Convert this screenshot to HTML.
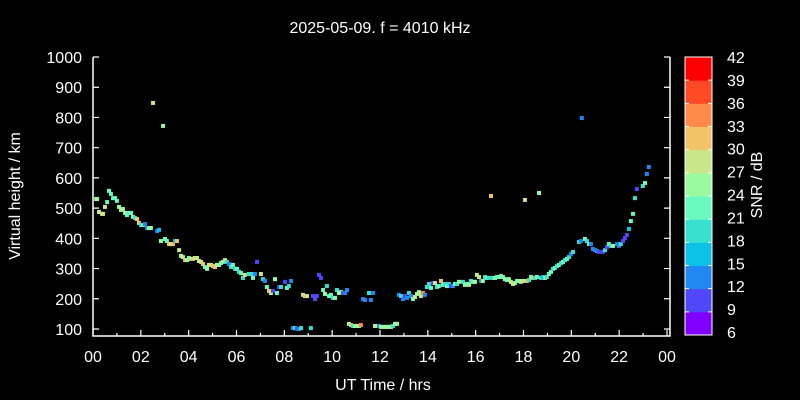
<!DOCTYPE html>
<html><head><meta charset="utf-8"><style>
html,body{margin:0;padding:0;background:#000;}
svg{display:block;font-family:"Liberation Sans",sans-serif;}
</style></head><body>
<svg id="c" width="800" height="400" viewBox="0 0 800 400">
<rect x="0" y="0" width="800" height="400" fill="#000"/>
<text x="380" y="33" fill="#fff" font-size="16" text-anchor="middle">2025-05-09. f = 4010 kHz</text>
<text x="383" y="390" fill="#fff" font-size="16" text-anchor="middle">UT Time / hrs</text>
<text transform="translate(20,196) rotate(-90)" fill="#fff" font-size="16" text-anchor="middle">Virtual height / km</text>
<text transform="translate(762,185) rotate(-90)" fill="#fff" font-size="16" text-anchor="middle">SNR / dB</text>
<g id="axes"></g>
<g id="pts"></g>
<g id="cbar"></g>
</svg>
<script>
const xTicks=["00","02","04","06","08","10","12","14","16","18","20","22","00"];
const yTicks=[100,200,300,400,500,600,700,800,900,1000];
const cbTicks=[6,9,12,15,18,21,24,27,30,33,36,39,42];
const cbColors=["#8000ff","#5048f8","#2088f0","#0cc2e6","#38e0d0","#6afac0","#9bfaa0","#c8e68a","#f2c46a","#ff8a4a","#ff4a25","#ff0000"];
const hours=[0.13,0.17,0.25,0.38,0.42,0.50,0.59,0.67,0.75,0.84,0.92,1.00,1.09,1.17,1.25,1.34,1.42,1.51,1.59,1.67,1.76,1.84,1.92,2.01,2.09,2.17,2.26,2.34,2.42,2.68,2.76,2.84,3.01,3.09,3.18,3.26,3.34,3.43,3.51,3.60,3.68,3.76,3.85,3.93,4.01,4.10,4.18,4.26,4.35,4.43,4.52,4.60,4.68,4.77,4.85,4.93,5.02,5.10,5.18,5.27,5.35,5.43,5.52,5.60,5.69,5.77,5.85,5.94,6.02,6.10,6.19,6.27,6.35,6.52,6.61,6.69,6.77,6.86,7.02,7.11,7.19,7.27,7.36,7.44,7.53,7.61,7.69,7.78,7.86,8.03,8.11,8.19,8.28,8.36,8.44,8.53,8.61,8.70,8.78,8.86,8.95,9.11,9.20,9.28,9.36,9.45,9.53,9.62,9.70,9.78,9.87,9.95,10.03,10.12,10.20,10.28,10.37,10.45,10.54,10.62,10.70,10.79,10.87,10.95,11.04,11.12,11.20,11.29,11.37,11.54,11.62,11.71,11.79,11.87,11.96,12.04,12.12,12.21,12.29,12.37,12.46,12.54,12.63,12.71,12.79,12.88,12.96,13.04,13.13,13.21,13.29,13.38,13.46,13.55,13.63,13.71,13.80,13.88,13.96,14.05,14.13,14.21,14.30,14.38,14.46,14.55,14.63,14.72,14.80,14.88,14.97,15.05,15.13,15.22,15.30,15.47,15.55,15.64,15.72,15.80,15.89,15.97,16.05,16.14,16.22,16.30,16.39,16.47,16.56,16.64,16.72,16.81,16.89,16.97,17.06,17.14,17.22,17.31,17.39,17.47,17.56,17.64,17.73,17.81,17.89,17.98,18.06,18.14,18.23,18.31,18.39,18.48,18.56,18.65,18.73,18.81,18.90,18.98,19.06,19.15,19.23,19.31,19.40,19.48,19.57,19.65,19.73,19.82,19.90,19.98,20.07,20.32,20.40,20.57,20.65,20.74,20.82,20.90,20.99,21.07,21.15,21.32,21.41,21.49,21.57,21.66,21.74,21.91,21.99,22.07,22.16,22.24,22.32,22.41,22.49,22.58,22.66,22.74,22.99,23.08,23.16,23.24,2.51,2.93,20.44];
const heights=[530,530,487,481,481,504,520,557,547,533,533,524,504,494,497,484,477,484,484,471,467,464,451,444,444,447,434,434,434,424,428,391,398,391,381,381,381,391,391,361,342,338,328,328,335,332,332,335,335,325,322,315,305,299,312,312,308,305,312,312,318,322,328,322,315,305,312,299,299,289,285,269,279,282,282,269,282,322,282,265,259,239,226,219,226,265,219,239,239,256,236,242,259,103,103,100,100,103,213,209,209,103,209,199,209,279,269,229,216,242,209,213,203,203,229,219,222,219,219,229,117,113,110,110,110,110,113,199,196,219,196,219,110,110,110,107,107,107,107,107,107,110,117,117,213,209,199,209,203,219,209,199,206,216,222,209,219,213,239,249,236,252,252,239,242,259,246,249,242,249,242,242,249,249,256,256,246,249,246,259,256,256,279,272,259,259,272,269,269,540,269,269,272,272,275,272,265,262,265,256,249,252,259,259,256,259,527,259,262,272,269,269,272,550,269,272,269,272,282,289,299,302,308,312,318,322,328,332,338,348,355,388,391,398,391,381,381,365,361,358,355,355,361,371,381,375,375,381,375,381,391,401,411,431,457,481,533,563,573,583,613,636,848,772,798];
const snr=[25,25,28,28,28,28,22,22,22,22,22,22,25,28,25,25,22,22,22,22,19,31,31,19,22,13,13,25,25,13,16,25,22,22,31,28,31,16,31,28,25,28,31,25,22,28,31,28,28,28,28,31,22,25,28,28,31,31,25,25,22,25,28,19,13,19,22,19,22,19,22,19,28,19,19,22,13,10,28,19,13,22,31,28,10,25,22,10,19,10,22,19,13,13,19,10,13,19,28,31,28,19,10,10,10,10,10,22,25,19,22,22,19,25,19,25,25,10,13,13,25,31,19,25,25,25,34,13,13,19,13,13,28,28,13,25,25,25,25,25,25,19,25,25,13,19,13,10,13,19,13,22,28,25,25,28,34,13,19,19,22,10,28,19,22,31,22,19,22,19,10,13,22,19,25,19,25,22,25,19,22,25,28,28,13,25,19,22,19,31,19,25,22,22,25,22,25,22,25,28,28,25,22,25,25,28,28,31,19,22,31,19,22,25,19,16,25,19,22,22,19,22,19,22,19,22,19,22,19,13,19,19,13,22,19,22,13,13,13,13,10,10,19,10,22,19,25,13,13,19,10,10,10,16,22,22,19,10,19,22,13,13,28,25,13];

const NS="http://www.w3.org/2000/svg";
const X0=93,X1=667,Y100=329,Y1000=57,YB=336,XR=670;
function xs(h){return X0+(X1-X0)*h/24;}
function ys(k){return Y100+(Y1000-Y100)*(k-100)/900;}
function mk(tag,attrs,parent){const e=document.createElementNS(NS,tag);for(const k in attrs)e.setAttribute(k,attrs[k]);parent.appendChild(e);return e;}
const ax=document.getElementById('axes');
let l=mk('path',{d:`M${X0} 57V${YB}H${XR}V57`,stroke:'#fff','stroke-width':1.5,fill:'none'},ax);


yTicks.forEach(v=>{
  const y=ys(v);
  let t=mk('path',{d:`M${X0} ${y}h6M${XR} ${y}h-6`,stroke:'#fff','stroke-width':1.2},ax);
  
  
  let tx=mk('text',{x:82,y:y+6,fill:'#fff','font-size':16,'text-anchor':'end'},ax);
  tx.textContent=v;
  
  
});
for(let h=0;h<=24;h++){
  const x=xs(h);
  let t=mk('path',{d:`M${x} ${YB}v${h%2?-3:-6}`,stroke:'#fff','stroke-width':1.2},ax);
  
  
}
xTicks.forEach((s,i)=>{
  let tx=mk('text',{x:xs(i*2),y:362,fill:'#fff','font-size':16,'text-anchor':'middle'},ax);
  tx.textContent=s;
  
  
});
function col(s){let i=Math.floor((s-6)/3);if(i<0)i=0;if(i>11)i=11;return cbColors[i];}
const pg=document.getElementById('pts');
hours.forEach((h,i)=>{
  let r=mk('rect',{x:xs(h)-2,y:ys(heights[i])-2,width:4,height:4,fill:col(snr[i])},pg);
  
  
});
const cb=document.getElementById('cbar');
const CT=57,CBt=335,CL=685,CR=712,bh=(CBt-CT)/12;
cbColors.forEach((c,i)=>{
  let r=mk('rect',{x:CL,y:CBt-(i+1)*bh,width:CR-CL,height:bh+0.5,fill:c},cb);
  
  
});
let fr=mk('rect',{x:CL,y:CT,width:CR-CL,height:CBt-CT,fill:'none',stroke:'#fff','stroke-width':1},cb);


cbTicks.forEach((v,i)=>{
  const y=CBt-i*bh;
  let t=mk('path',{d:`M${CL} ${y}h4M${CR} ${y}h-4`,stroke:'#fff','stroke-width':1},cb);
  
  
  let tx=mk('text',{x:727,y:CBt-i*(CBt-CT-3)/12+3,fill:'#fff','font-size':16},cb);
  tx.textContent=v;
  
  
});
</script>
</body></html>
